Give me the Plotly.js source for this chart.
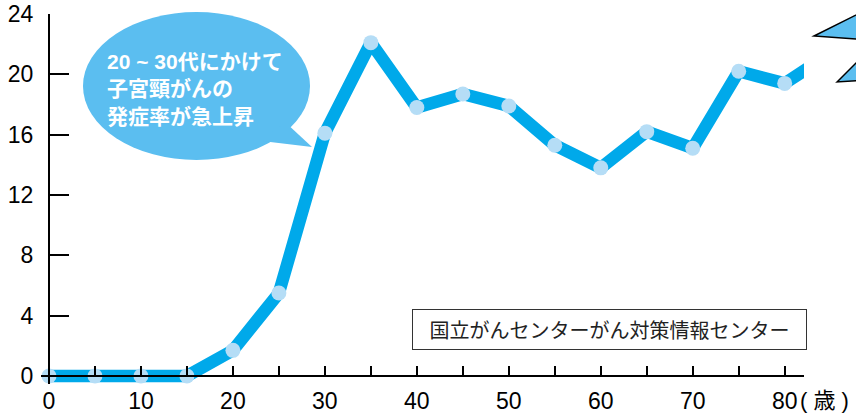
<!DOCTYPE html>
<html><head><meta charset="utf-8">
<script src="https://cdn.plot.ly/plotly-3.0.1.min.js"></script>
<style>
html,body{margin:0;padding:0;background:#fff;}
#chart{width:856px;height:414px;}
.scatterlayer .js-line{stroke-linejoin:round;}
</style></head><body><div id="chart"></div>
<script>
// Data: cervical cancer incidence rate by age
const ages  = [0, 5, 10, 15, 20, 25, 30, 35, 40, 45, 50, 55, 60, 65, 70, 75, 80, 85];
const rates = [0, 0, 0, 0, 1.7, 5.5, 16.1, 22.1, 17.8, 18.7, 17.9, 15.3, 13.8, 16.2, 15.1, 20.2, 19.4, 21.4];
const xTickVals = [0, 5, 10, 15, 20, 25, 30, 35, 40, 45, 50, 55, 60, 65, 70, 75, 80];
const xTickText = ['0', '', '10', '', '20', '', '30', '', '40', '', '50', '', '60', '', '70', '', '80'];
const yTickVals = [0, 4, 8, 12, 16, 20, 24];
const bubbleLines = ['20 ~ 30代にかけて', '子宮頸がんの', '発症率が急上昇'];
const sourceText = '国立がんセンターがん対策情報センター';
const unitText = '( 歳 )';

const markerAges = ages.filter(a => a <= 80);
const markerRates = rates.slice(0, markerAges.length);

const W = 856, H = 414;
const M = {l: 41, r: 52, t: 14, b: 30};
const pw = W - M.l - M.r, ph = H - M.t - M.b;
const xMax = 82.1, yMax = 24, xPad = 8, yPad = 8;
const xScale = (pw - xPad) / xMax, yScale = (ph - yPad) / yMax;
const xr = [-xPad / xScale, xMax], yr = [-yPad / yScale, yMax];
const px2x = p => (p - M.l) / pw;
const py2y = p => (H - M.b - p) / ph;
const P = pts => pts.map((q, i) => (i ? 'L' : 'M') + px2x(q[0]).toFixed(4) + ',' + py2y(q[1]).toFixed(4)).join(' ') + ' Z';

const numFont = 'Liberation Sans, Arial, Noto Sans CJK JP, sans-serif';
const jpFont = 'Noto Sans CJK JP, sans-serif';
const bubbleColor = '#5bbef0';

const traces = [
  {x: ages, y: rates, type: 'scatter', mode: 'lines',
   line: {color: '#00a9ea', width: 12.5}, cliponaxis: true, hoverinfo: 'skip'},
  {x: markerAges, y: markerRates, type: 'scatter', mode: 'markers',
   marker: {color: '#b5ddf6', size: 15, line: {width: 0}}, cliponaxis: false, hoverinfo: 'skip'}
];

const layout = {
  width: W, height: H, margin: M,
  paper_bgcolor: '#fff', plot_bgcolor: '#fff', showlegend: false,
  xaxis: {range: xr, anchor: 'free', position: yPad / ph,
    tickvals: xTickVals, ticktext: xTickText, ticks: 'inside', ticklen: 9, tickwidth: 2,
    tickcolor: '#000', showline: true, linecolor: '#000', linewidth: 2,
    showgrid: false, zeroline: false, ticklabelstandoff: 4,
    tickfont: {family: numFont, size: 23, color: '#000'}},
  yaxis: {range: yr, anchor: 'free', position: xPad / pw,
    tickvals: yTickVals, ticks: 'inside', ticklen: 19, tickwidth: 2,
    tickcolor: '#000', showline: true, linecolor: '#000', linewidth: 2,
    showgrid: false, zeroline: false, ticklabelstandoff: 10,
    tickfont: {family: numFont, size: 23, color: '#000'}},
  shapes: [
    {type: 'circle', xref: 'paper', yref: 'paper', x0: px2x(83), x1: px2x(310), y0: py2y(160), y1: py2y(12),
     fillcolor: bubbleColor, line: {width: 0}},
    {type: 'path', xref: 'paper', yref: 'paper', path: P([[285, 122], [312, 147], [262, 141]]),
     fillcolor: bubbleColor, line: {width: 0}},
    {type: 'path', xref: 'paper', yref: 'paper', path: P([[814, 36], [870, 8], [870, 40]]),
     fillcolor: bubbleColor, line: {color: '#000', width: 1.5}},
    {type: 'path', xref: 'paper', yref: 'paper', path: P([[837, 82], [870, 49], [870, 80]]),
     fillcolor: bubbleColor, line: {color: '#000', width: 1.5}}
  ],
  annotations: [
    {xref: 'paper', yref: 'paper', x: px2x(105), y: py2y(89), xanchor: 'left', yanchor: 'middle',
     text: bubbleLines.join('<br>'), align: 'left', showarrow: false,
     font: {family: numFont, size: 21, color: '#fff', weight: 'bold'}},
    {xref: 'paper', yref: 'paper', x: px2x(412), y: py2y(309), xanchor: 'left', yanchor: 'top',
     text: sourceText, showarrow: false, width: 393, height: 39, borderpad: 0, borderwidth: 1,
     bordercolor: '#333', bgcolor: '#fff', align: 'center',
     font: {family: jpFont, size: 20, color: '#222'}},
    {xref: 'paper', yref: 'paper', x: px2x(798), y: py2y(400), xanchor: 'left', yanchor: 'middle',
     text: unitText, showarrow: false, font: {family: numFont, size: 22, color: '#000'}}
  ]
};

Plotly.newPlot('chart', traces, layout, {staticPlot: true, displayModeBar: false});
</script></body></html>
